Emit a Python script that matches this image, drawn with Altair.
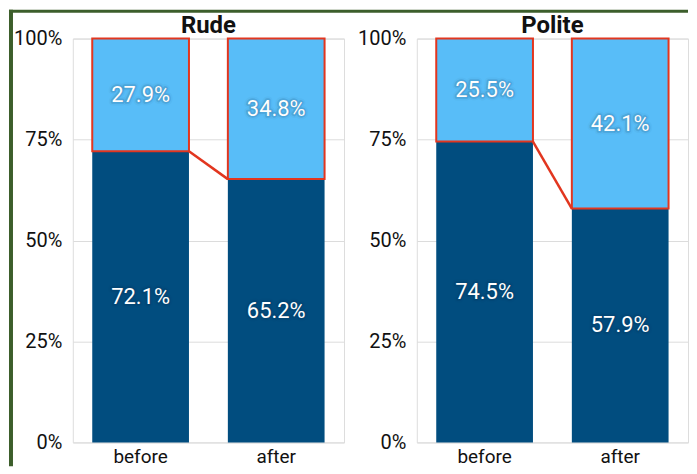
import altair as alt
import pandas as pd

# ---- data ----
panels = ["Rude", "Polite"]
periods = ["before", "after"]
lower_pct = {"Rude": [72.1, 65.2], "Polite": [74.5, 57.9]}
upper_pct = {"Rude": [27.9, 34.8], "Polite": [25.5, 42.1]}
y_ticks = [0, 25, 50, 75, 100]

# ---- style ----
DARK = "#014d7f"
LIGHT = "#58bdf8"
RED = "#e2361f"
GREEN = "#3c5e2b"
FONT = "Roboto"
W, H = 272, 405
GAP = 73
TOP = 29          # plot top offset from chart top (pixels)
LEFT = 64         # plot left offset from chart left (pixels)
P_IN, P_OUT = 39 / 136, 19.5 / 136
STEP = W / (len(periods) - P_IN + 2 * P_OUT)
BW = STEP * (1 - P_IN)


def panel(name, decor=False):
    lo = lower_pct[name]
    hi = upper_pct[name]
    seg = pd.DataFrame({
        "period": periods * 2,
        "part": ["lower"] * 2 + ["upper"] * 2,
        "y0": [0.0, 0.0] + lo,
        "y1": lo + [a + b for a, b in zip(lo, hi)],
        "label": [f"{v:.1f}%" for v in lo + hi],
    })
    seg["mid"] = (seg["y0"] + seg["y1"]) / 2

    xscale = alt.Scale(domain=periods, paddingInner=P_IN, paddingOuter=P_OUT)
    x = alt.X("period:N", sort=None, scale=xscale,
              axis=alt.Axis(title=None, labelAngle=0, labelFontSize=19, labelFont=FONT,
                            labelColor="#111111", ticks=False, domain=False,
                            labelPadding=5, grid=False))
    y = alt.Y("y0:Q", scale=alt.Scale(domain=[0, 100], nice=False),
              axis=alt.Axis(title=None, values=y_ticks, labelExpr="datum.value + '%'",
                            labelFontSize=20, labelFont=FONT, labelColor="#111111",
                            ticks=False, domain=False, labelPadding=11,
                            grid=True, gridColor="#dcdcdc", gridWidth=1))
    xs = alt.X("period:N", sort=None, scale=xscale)

    base = alt.Chart(seg)
    lower = base.transform_filter("datum.part == 'lower'").mark_bar(color=DARK).encode(
        x=x, y=y, y2="y1:Q")
    upper = base.transform_filter("datum.part == 'upper'").mark_bar(
        color=LIGHT, stroke=RED, strokeWidth=2).encode(x=xs, y="y0:Q", y2="y1:Q")

    conn = pd.DataFrame({"a": [periods[0]], "b": [periods[1]],
                         "ya": [lo[0]], "yb": [lo[1]]})
    rule = alt.Chart(conn).mark_rule(color=RED, strokeWidth=2.5,
                                     xOffset=BW / 2, x2Offset=-BW / 2).encode(
        x=alt.X("a:N", sort=None, scale=xscale), x2="b:N", y="ya:Q", y2="yb:Q")

    glow1 = base.mark_text(fontSize=22, font=FONT, color="#0a2640", stroke="#0a2640",
                           strokeWidth=7, strokeOpacity=0.18, opacity=0.18,
                           strokeJoin="round").encode(x=xs, y="mid:Q", text="label:N")
    glow2 = base.mark_text(fontSize=22, font=FONT, color="#0a2640", stroke="#0a2640",
                           strokeWidth=3.5, strokeOpacity=0.35, opacity=0.35,
                           strokeJoin="round").encode(x=xs, y="mid:Q", text="label:N")
    txt = base.mark_text(fontSize=22, font=FONT, color="white").encode(
        x=xs, y="mid:Q", text="label:N")

    title = alt.Chart(pd.DataFrame({"name": [name]})).mark_text(
        fontSize=24, font=FONT, fontWeight="bold", color="#111111",
        baseline="alphabetic", align="center").encode(
        x=alt.value(W / 2), y=alt.value(-6), text="name:N")

    layers = [lower, upper, rule, glow1, glow2, txt, title]
    if decor:
        one = alt.Chart(pd.DataFrame({"d": [0]}))
        right_end = 2 * W + GAP
        layers += [
            one.mark_rect(color=GREEN).encode(x=alt.value(-LEFT), x2=alt.value(-LEFT + 4),
                                             y=alt.value(-TOP), y2=alt.value(429)),
            one.mark_rect(color=GREEN).encode(x=alt.value(-LEFT), x2=alt.value(right_end),
                                             y=alt.value(-TOP), y2=alt.value(-TOP + 3)),
        ]
    return alt.layer(*layers).properties(width=W, height=H)


chart = alt.hconcat(panel(panels[0], decor=True), panel(panels[1]),
                    spacing=GAP, bounds="flush").properties(padding=0).configure_view(
    stroke="#aaaaaa", strokeWidth=1).configure(background="white")

chart.save("out.html", embed_options={"renderer": "svg", "actions": False})
